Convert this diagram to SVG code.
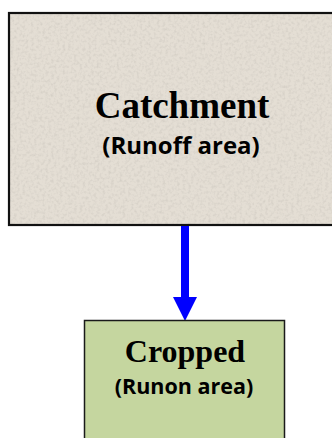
<svg xmlns="http://www.w3.org/2000/svg" width="332" height="438" viewBox="0 0 332 438">
  <style>
    .title { font-family: "Liberation Serif", "Times New Roman", serif; font-weight: bold; fill: #000; text-anchor: middle; }
    .sub { font-family: "Open Sans", "Liberation Sans", sans-serif; font-weight: bold; fill: #000; text-anchor: middle; }
  </style>
  <defs>
    <filter id="stone" x="0" y="0" width="100%" height="100%">
      <feTurbulence type="fractalNoise" baseFrequency="0.35" numOctaves="2" seed="4" result="n"/>
      <feColorMatrix in="n" type="matrix" values="0 0 0 0 0.55  0 0 0 0 0.52  0 0 0 0 0.47  0 0 0 -1.1 0.62" result="spots"/>
      <feComposite in="spots" in2="SourceGraphic" operator="in" result="clipped"/>
      <feMerge><feMergeNode in="SourceGraphic"/><feMergeNode in="clipped"/></feMerge>
    </filter>
  </defs>
  <rect width="332" height="438" fill="#ffffff"/>
  <g id="catchment">
    <rect x="9" y="13" width="330" height="212" fill="#e4ded4" filter="url(#stone)"/>
    <rect x="9" y="13" width="330" height="212" fill="none" stroke="#111" stroke-width="2.2"/>
    <text class="title" x="182" y="118" font-size="37">Catchment</text>
    <text class="sub" x="181" y="154" font-size="24">(Runoff area)</text>
  </g>
  <g id="connectors">
    <line x1="185" y1="226" x2="185" y2="297" stroke="#0000ff" stroke-width="8"/>
    <path d="M173,297 L197,297 L185,321 Z" fill="#0000ff"/>
  </g>
  <g id="cropped">
    <rect x="84.5" y="320.5" width="200" height="130" fill="#c5d69f" stroke="#1a1a1a" stroke-width="1.5"/>
    <text class="title" x="185" y="362" font-size="32">Cropped</text>
    <text class="sub" x="184" y="394" font-size="21.5">(Runon area)</text>
  </g>
</svg>
